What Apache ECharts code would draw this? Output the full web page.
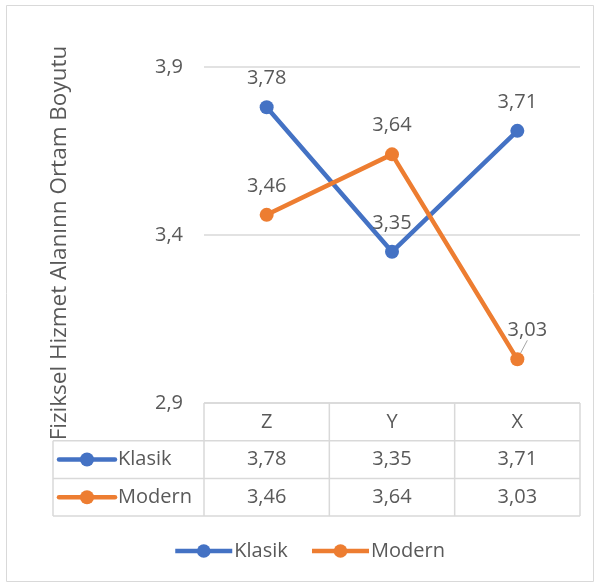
<!DOCTYPE html>
<html>
<head>
<meta charset="utf-8">
<script src="https://cdn.jsdelivr.net/npm/echarts@6/dist/echarts.min.js"></script>
<style>
html,body{margin:0;padding:0;background:#fff;}
#main{width:599px;height:587px;}
</style>
</head>
<body>
<div id="main"></div>
<script>
const categories = ['Z', 'Y', 'X'];
const seriesNames = ['Klasik', 'Modern'];
const klasik = [3.78, 3.35, 3.71];
const modern = [3.46, 3.64, 3.03];
const yTicks = [2.9, 3.4, 3.9];
const axisTitle = 'Fiziksel Hizmet Alanınn Ortam Boyutu';

const colors = ['#4472C4', '#ED7D31'];
const FONT = '"Open Sans", sans-serif';
const TXT = '#595959';
const FS = 20;
const fmt = v => v.toFixed(2).replace('.', ',');

const chart = echarts.init(document.getElementById('main'), null, {renderer: 'canvas'});

function mkSeries(name, data, idx) {
  return {
    name: name,
    type: 'line',
    data: data.map((v, i) => {
      const moved = (idx === 1 && i === 2);
      return {value: v, labelLine: {show: moved}};
    }),
    symbol: 'circle',
    symbolSize: 14,
    lineStyle: {width: 4.5, color: colors[idx]},
    itemStyle: {color: colors[idx]},
    label: {
      show: true, position: 'top', distance: 12,
      fontFamily: FONT, fontSize: FS, color: TXT,
      formatter: p => fmt(p.value)
    },
    labelLine: {show: false, lineStyle: {color: '#a6a6a6', width: 1}},
    labelLayout: function (p) {
      if (idx === 1 && p.dataIndex === 2) return {dx: 10, dy: 0};
      return {};
    },
    z: idx === 1 ? 3 : 2
  };
}

const option = {
  animation: false,
  backgroundColor: '#fff',
  color: colors,
  grid: {left: 204, right: 19, top: 67, bottom: 184, containLabel: false},
  xAxis: {
    type: 'category', data: categories, boundaryGap: true,
    axisLine: {show: false}, axisTick: {show: false}, axisLabel: {show: false}
  },
  yAxis: {
    type: 'value', min: yTicks[0], max: yTicks[yTicks.length - 1], interval: 0.5,
    axisLine: {show: false}, axisTick: {show: false},
    axisLabel: {
      fontFamily: FONT, fontSize: FS, color: TXT, margin: 21,
      formatter: v => v.toFixed(1).replace('.', ',')
    },
    splitLine: {lineStyle: {color: '#d9d9d9', width: 1.5}},
    name: axisTitle, nameLocation: 'middle', nameRotate: 90, nameGap: 133,
    nameTextStyle: {fontFamily: FONT, fontSize: 22.5, color: TXT, padding: [0, 16, 0, 0]}
  },
  legend: {
    data: seriesNames, bottom: 21, left: 168,
    itemWidth: 57, itemHeight: 17, itemGap: 22,
    lineStyle: {width: 4.5},
    textStyle: {fontFamily: FONT, fontSize: FS, color: TXT, padding: [0, 0, 0, -3]}
  },
  series: [mkSeries(seriesNames[0], klasik, 0), mkSeries(seriesNames[1], modern, 1)]
};
chart.setOption(option);

// data table built from the same arrays, positioned via the chart's axes
function buildTable() {
  const g = [];
  const lineStyle = {stroke: '#d9d9d9', lineWidth: 1.5};
  const centers = categories.map((c, i) => chart.convertToPixel({xAxisIndex: 0}, i));
  const step = centers.length > 1 ? centers[1] - centers[0] : 125;
  const plotLeft = centers[0] - step / 2;
  const plotRight = centers[centers.length - 1] + step / 2;
  const top = chart.convertToPixel({yAxisIndex: 0}, yTicks[0]);
  const rowH = 37.7;
  const tableLeft = 53;
  const rows = [klasik, modern];
  g.push({type: 'line', shape: {x1: plotLeft, y1: top, x2: plotRight, y2: top}, style: lineStyle, silent: true});
  for (let r = 1; r <= rows.length + 1; r++) {
    const y = top + rowH * r;
    g.push({type: 'line', shape: {x1: tableLeft, y1: y, x2: plotRight, y2: y}, style: lineStyle, silent: true});
  }
  const bottom = top + rowH * (rows.length + 1);
  g.push({type: 'line', shape: {x1: tableLeft, y1: top + rowH, x2: tableLeft, y2: bottom}, style: lineStyle, silent: true});
  for (let i = 0; i <= categories.length; i++) {
    const x = plotLeft + step * i;
    g.push({type: 'line', shape: {x1: x, y1: top, x2: x, y2: bottom}, style: lineStyle, silent: true});
  }
  categories.forEach((c, i) => {
    g.push({type: 'text', x: centers[i], y: top + rowH / 2, silent: true,
      style: {text: c, fill: TXT, font: FS + 'px ' + FONT, align: 'center', verticalAlign: 'middle'}});
  });
  rows.forEach((vals, r) => {
    const yc = top + rowH * (r + 1.5);
    g.push({type: 'line', shape: {x1: 59, y1: yc, x2: 115, y2: yc}, silent: true,
      style: {stroke: colors[r], lineWidth: 4.5, lineCap: 'round'}});
    g.push({type: 'circle', shape: {cx: 87, cy: yc, r: 7}, silent: true, style: {fill: colors[r]}});
    g.push({type: 'text', x: 118, y: yc, silent: true,
      style: {text: seriesNames[r], fill: TXT, font: FS + 'px ' + FONT, align: 'left', verticalAlign: 'middle'}});
    vals.forEach((v, i) => {
      g.push({type: 'text', x: centers[i], y: yc, silent: true,
        style: {text: fmt(v), fill: TXT, font: FS + 'px ' + FONT, align: 'center', verticalAlign: 'middle'}});
    });
  });
  g.push({type: 'rect', shape: {x: 6.5, y: 5.5, width: 587, height: 576}, silent: true, z: -1,
    style: {fill: null, stroke: '#d9d9d9', lineWidth: 1}});
  chart.setOption({graphic: g});
}
buildTable();
</script>
</body>
</html>
